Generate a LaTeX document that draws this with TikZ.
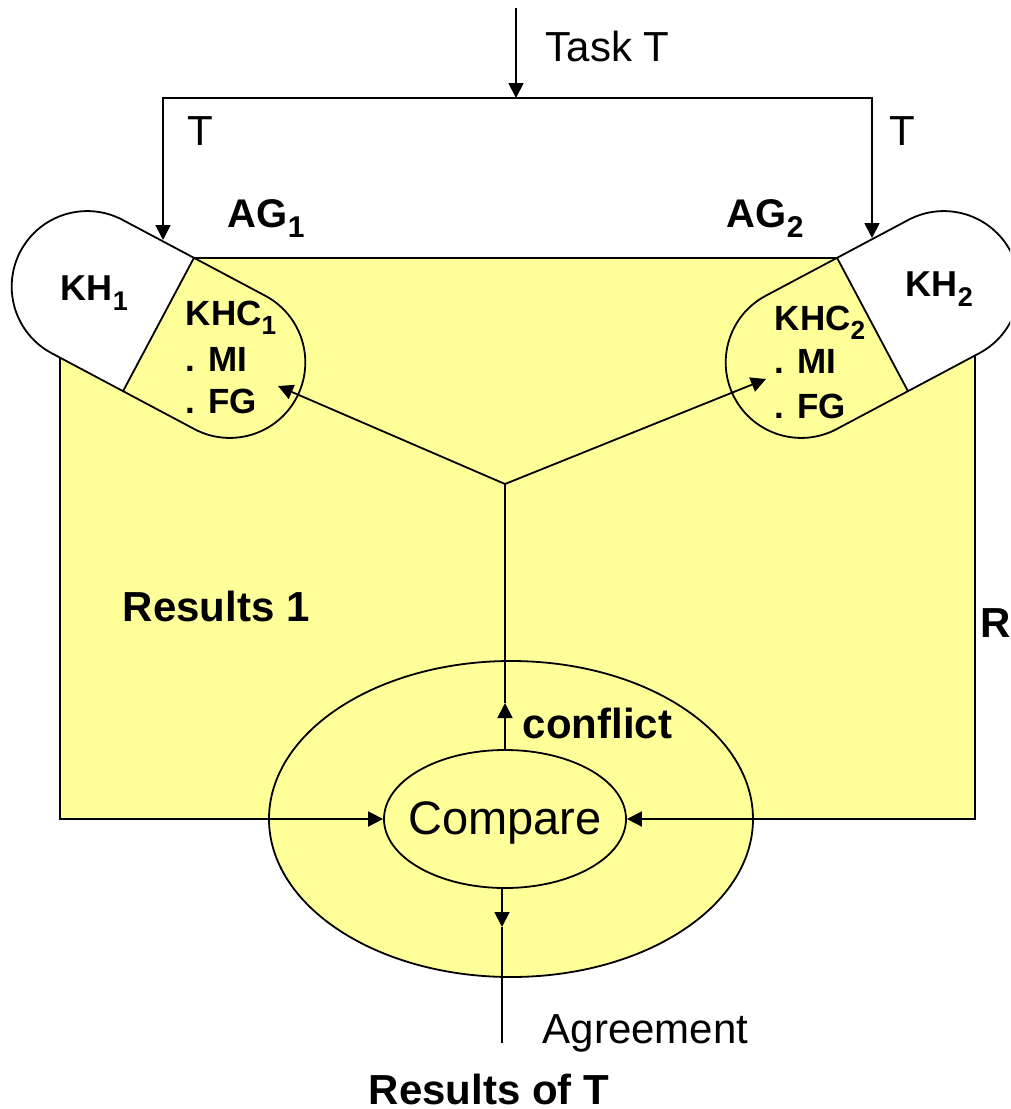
\documentclass[tikz,border=0pt]{standalone}
\usepackage{fontspec}
\setmainfont{Liberation Sans}[Ligatures=NoCommon]
\usepackage{graphicx}
\usetikzlibrary{arrows.meta,shapes.geometric}
\definecolor{notepad}{RGB}{255,255,153}
% lowered, smaller index digit
\newcommand\subidx[1]{\raisebox{-0.27em}{\scalebox{0.75}{#1}}}
% agent capsule in local axes: white knowledge half (left), yellow working half (right)
\newcommand\agentcapsule{%
  \fill[white] (0,-75.5) -- (-80.75,-75.5) arc[start angle=270,end angle=90,radius=75.5] -- (0,75.5) -- cycle;
  \fill[notepad] (0,-75.5) -- (80.75,-75.5) arc[start angle=-90,end angle=90,radius=75.5] -- (0,75.5) -- cycle;
  \draw (-80.75,-75.5) -- (80.75,-75.5) arc[start angle=-90,end angle=90,radius=75.5]
        -- (-80.75,75.5) arc[start angle=90,end angle=270,radius=75.5] -- cycle;
  \draw (0,-75.5) -- (0,75.5);
}

\begin{document}
\begin{tikzpicture}[x=1pt,y=1pt,
  line width=1.8pt,
  arr/.style={-{Triangle[length=15pt,width=15pt]}},
  arrboth/.style={{Triangle[length=15pt,width=15pt]}-{Triangle[length=15pt,width=15pt]}},
  plain/.style={inner sep=0pt, anchor=base west, font=\fontsize{42}{50}\selectfont},
  heavy/.style={inner sep=0pt, anchor=base west, font=\fontsize{42}{50}\selectfont\bfseries},
  agent/.style={inner sep=0pt, anchor=base west, font=\fontsize{40}{48}\selectfont\bfseries},
  know/.style={inner sep=0pt, anchor=base west, font=\fontsize{35}{44}\selectfont\bfseries},
  blob/.style={ellipse, draw, fill=notepad, inner sep=0pt},
]
\begin{scope}[yscale=-1]
\useasboundingbox (0,0) rectangle (1010,1109);
\clip (0,0) rectangle (1010,1109);
\fill[white] (0,0) rectangle (1010,1109);

% shared working area
\fill[notepad] (60,357.6) -- (193.9,257.8) -- (837.1,257.8) -- (975,355.5)
               -- (975,819) -- (60,819) -- cycle;

% the two agents
\begin{scope}[shift={(158.5,324.5)}, rotate=28]
  \agentcapsule
\end{scope}
\begin{scope}[shift={(872.5,324.5)}, xscale=-1, rotate=28]
  \agentcapsule
\end{scope}
\draw (193.9,257.8) -- (837.1,257.8);

% comparison stage
\node[blob, minimum width=484pt, minimum height=316pt] (pool) at (511,819) {};
\node[blob, minimum width=242pt, minimum height=138pt] (cmp) at (505,819) {};
\node[plain, anchor=base, font=\fontsize{47}{56}\selectfont] (cmptxt) at (505,834) {Compare};

% results of each agent flowing into the comparison
\draw[arr] (60,357.6) -- (60,819) -- (cmp.west);
\draw[arr] (975,355.5) -- (975,819) -- (cmp.east);

% conflict feedback to both agents
\coordinate (fork) at (505,484);
\coordinate (cfl) at (505,703);
\coordinate (khc1) at (278,386);
\coordinate (khc2) at (766,379);
\draw[arr] (cmp.north) -- (cfl);
\draw (cfl) -- (fork);
\draw[arr] (fork) -- (khc1);
\draw[arr] (fork) -- (khc2);

% agreement output
\coordinate (agree) at (502,927);
\coordinate (out) at (502,1043);
\draw[arr] (cmp.south -| agree) -- (agree);
\draw (agree) -- (out);

% task distribution
\coordinate (task) at (516,8);
\coordinate (split) at (516,98);
\coordinate (splitL) at (163,98);
\coordinate (splitR) at (872,98);
\coordinate (in1) at (163,240);
\coordinate (in2) at (872,238);
\draw[arr] (task) -- (split);
\draw[arrboth] (in1) -- (splitL) -- (splitR) -- (in2);

% labels
\node[plain] (tasklbl) at (545,61.7) {Task T};
\node[plain] (tl) at (187,145) {T};
\node[plain] (tr) at (889,145) {T};
\node[agent] (ag1) at (227,227) {AG\subidx{1}};
\node[agent] (ag2) at (726,227) {AG\subidx{2}};
\node[know, font=\fontsize{36}{44}\selectfont\bfseries] (kh1) at (60,300.7) {KH\subidx{1}};
\node[know, font=\fontsize{36}{44}\selectfont\bfseries] (kh2) at (905,296.7) {KH\subidx{2}};
\node[know] (khc1a) at (185,325) {KHC\subidx{1}};
\node[know] (khc1b) at (185,371.7) {. MI};
\node[know] (khc1c) at (185,413) {. FG};
\node[know] (khc2a) at (774,330) {KHC\subidx{2}};
\node[know] (khc2b) at (774,373.3) {. MI};
\node[know] (khc2c) at (774,418.3) {. FG};
\node[heavy] (res1) at (122,621.7) {Results 1};
\node[heavy] (res2) at (980,637.5) {R};
\node[heavy] (cfltxt) at (522,738) {conflict};
\node[plain] (agrtxt) at (542,1043) {Agreement};
\node[heavy] (rest) at (368,1104) {Results of T};
\end{scope}
\end{tikzpicture}
\end{document}
